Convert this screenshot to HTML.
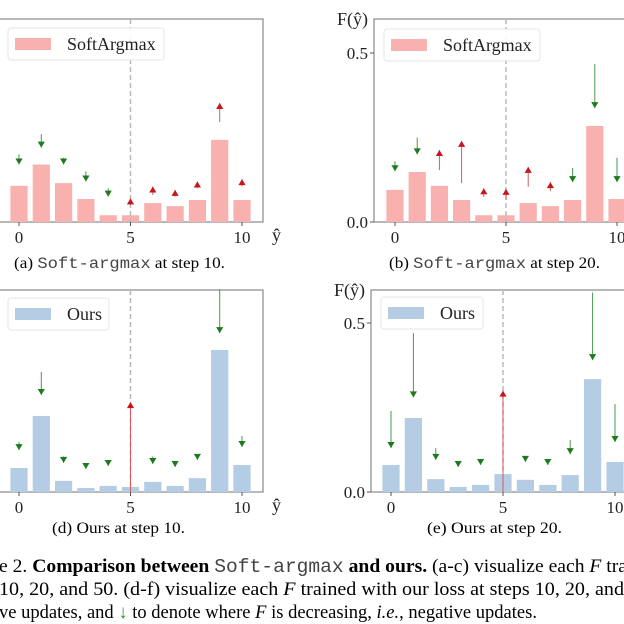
<!DOCTYPE html>
<html><head><meta charset="utf-8">
<style>
html,body{margin:0;padding:0;background:#fff;}
svg{display:block;font-family:"Liberation Serif",serif;}
.mono{font-family:"Liberation Mono",monospace;fill:#444;}
</style></head>
<body>
<svg id="fig" width="624" height="624" viewBox="0 0 624 624" xmlns="http://www.w3.org/2000/svg">
<rect width="624" height="624" fill="#fff"/>
<g id="panels"></g>
<text x="14" y="268" font-size="16" textLength="211" lengthAdjust="spacingAndGlyphs">(a) <tspan class="mono">Soft-argmax</tspan> at step 10.</text>
<text x="389" y="268" font-size="16" textLength="211" lengthAdjust="spacingAndGlyphs">(b) <tspan class="mono">Soft-argmax</tspan> at step 20.</text>
<text x="52" y="533" font-size="16" textLength="133" lengthAdjust="spacingAndGlyphs">(d) Ours at step 10.</text>
<text x="427" y="533" font-size="16" textLength="135" lengthAdjust="spacingAndGlyphs">(e) Ours at step 20.</text>
<g font-size="19">
<text x="-1" y="572" textLength="628" lengthAdjust="spacingAndGlyphs">e 2. <tspan font-weight="bold">Comparison between</tspan> <tspan class="mono">Soft-argmax</tspan> <tspan font-weight="bold">and ours.</tspan> (a-c) visualize each <tspan font-style="italic">F</tspan> tra</text>
<text x="-1" y="595" textLength="625" lengthAdjust="spacingAndGlyphs">10, 20, and 50. (d-f) visualize each <tspan font-style="italic">F</tspan> trained with our loss at steps 10, 20, and</text>
<text x="-1" y="618" textLength="538" lengthAdjust="spacingAndGlyphs">ve updates, and <tspan fill="#2a9a2a">↓</tspan> to denote where <tspan font-style="italic">F</tspan> is decreasing, <tspan font-style="italic">i.e.</tspan>, negative updates.</text>
</g>
</svg>
<script>
const categories = [0,1,2,3,4,5,6,7,8,9,10];
const xTicks = [0,5,10];
const yTickValues = [0.0,0.5];
const yTickLabels = ["0.0","0.5"];
const barsA = [0.107,0.17,0.115,0.068,0.02,0.02,0.056,0.047,0.065,0.243,0.065];
const arrowFromA = [0.20,0.26,0.19,0.15,0.10,0.05,0.08,0.075,0.10,0.296,0.105];
const arrowToA   = [0.17,0.22,0.17,0.12,0.075,0.07,0.105,0.095,0.12,0.352,0.127];
const barsB = [0.095,0.148,0.107,0.065,0.02,0.02,0.056,0.047,0.065,0.284,0.068];
const arrowFromB = [0.18,0.25,0.154,0.115,0.074,0.065,0.104,0.092,0.16,0.467,0.19];
const arrowToB   = [0.15,0.20,0.213,0.24,0.10,0.098,0.163,0.118,0.118,0.337,0.118];
const barsD = [0.071,0.225,0.033,0.012,0.018,0.015,0.03,0.018,0.041,0.42,0.08];
const arrowFromD = [0.148,0.355,0.105,0.08,0.09,0.0,0.105,0.085,0.11,0.60,0.166];
const arrowToD   = [0.124,0.287,0.086,0.068,0.077,0.266,0.083,0.074,0.095,0.47,0.133];
const barsE = [0.08,0.219,0.038,0.015,0.021,0.053,0.036,0.021,0.05,0.334,0.089];
const arrowFromE = [0.24,0.47,0.13,0.085,0.09,0.0,0.10,0.09,0.154,0.59,0.26];
const arrowToE   = [0.13,0.28,0.095,0.074,0.08,0.30,0.089,0.08,0.112,0.39,0.148];

const NS="http://www.w3.org/2000/svg";
const root=document.getElementById('panels');
function mk(tag,attrs,parent){const e=document.createElementNS(NS,tag);for(const k in attrs)e.setAttribute(k,attrs[k]);(parent||root).appendChild(e);return e;}

function panel(p){
  const g=mk('g',{});
  
  
  const xs=v=>p.x0+v*p.unit;
  const ys=v=>p.bottom-v*338;
  const fr=mk('rect',{x:p.left,y:p.top,width:p.right-p.left,height:p.bottom-p.top,fill:'none',stroke:'#888','stroke-width':1.2},g);
  
  
  p.bars.forEach((v,i)=>{
    const b=mk('rect',{x:xs(categories[i])-8.6,y:ys(v),width:17.2,height:ys(0)-ys(v),fill:p.color},g);
    
    
  });
  const dl=mk('line',{x1:xs(5),x2:xs(5),y1:p.top,y2:p.bottom,stroke:'#b8b8b8','stroke-width':1.5,'stroke-dasharray':'5,3'},g);
  
  
  p.from.forEach((f,i)=>{
    const t=p.to[i];const up=t>f;const col=up?'#c8141c':'#1e7a1e';
    const x=xs(categories[i]);const y1=ys(f),y2=ys(t);
    const ln=mk('line',{x1:x,x2:x,y1:y1,y2:y2,stroke:up?'#d06060':'#4a9a4a','stroke-width':1},g);
    
    
    const h=6, w=3.6;
    const pts=up?`${x-w},${y2+h} ${x+w},${y2+h} ${x},${y2}`:`${x-w},${y2-h} ${x+w},${y2-h} ${x},${y2}`;
    const tri=mk('polygon',{points:pts,fill:col},g);
    
    
  });
  xTicks.forEach(t=>{
    mk('line',{x1:xs(t),x2:xs(t),y1:p.bottom,y2:p.bottom+4,stroke:'#555'},g);
    const tx=mk('text',{x:xs(t),y:p.bottom+21,'font-size':17,'text-anchor':'middle',fill:'#222'},g);
    tx.textContent=t;
    
    
  });
  if(p.xlabel){
    const xl=mk('text',{x:p.right+9,y:p.bottom+19,'font-size':18,fill:'#222'},g);
    xl.textContent='ŷ';
    
    
  }
  if(p.ylabels){
    yTickValues.forEach((v,i)=>{
      mk('line',{x1:p.left-4,x2:p.left,y1:ys(v),y2:ys(v),stroke:'#555'},g);
      const tl=mk('text',{x:p.left-6,y:ys(v)+6,'font-size':17,'text-anchor':'end',fill:'#222'},g);
      tl.textContent=yTickLabels[i];
      
      
    });
    const yt=mk('text',{x:p.left-37,y:p.top+6,'font-size':18,fill:'#222'},g);
    yt.textContent='F(ŷ)';
    
    
  }
  const lg=mk('g',{},g);
  
  
  mk('rect',{x:p.lx,y:p.ly,width:p.lw,height:32,rx:3,fill:'#fff',stroke:'#e4e4e4','stroke-width':1,opacity:0.9},lg);
  mk('rect',{x:p.lx+7,y:p.ly+10,width:36,height:12,fill:p.color},lg);
  const lt=mk('text',{x:p.lx+59,y:p.ly+22,'font-size':18,fill:'#222'},lg);
  lt.textContent=p.label;
  
  
}
const pink='#f8b1ae', blue='#b4cde4';
panel({name:'panel-a',x0:19,unit:22.3,left:-1,right:263,top:19,bottom:222,bars:barsA,from:arrowFromA,to:arrowToA,color:pink,xlabel:true,ylabels:false,lx:8,ly:28,lw:156,label:'SoftArgmax'});
panel({name:'panel-b',x0:395,unit:22.2,left:374,right:640,top:19,bottom:222,bars:barsB,from:arrowFromB,to:arrowToB,color:pink,xlabel:false,ylabels:true,lx:384,ly:29,lw:156,label:'SoftArgmax'});
panel({name:'panel-d',x0:19,unit:22.3,left:-1,right:263,top:290,bottom:492,bars:barsD,from:arrowFromD,to:arrowToD,color:blue,xlabel:true,ylabels:false,lx:8,ly:298,lw:101,label:'Ours'});
panel({name:'panel-e',x0:391,unit:22.4,left:371,right:640,top:290,bottom:492,bars:barsE,from:arrowFromE,to:arrowToE,color:blue,xlabel:false,ylabels:true,lx:381,ly:297,lw:102,label:'Ours'});
</script>
</body></html>
